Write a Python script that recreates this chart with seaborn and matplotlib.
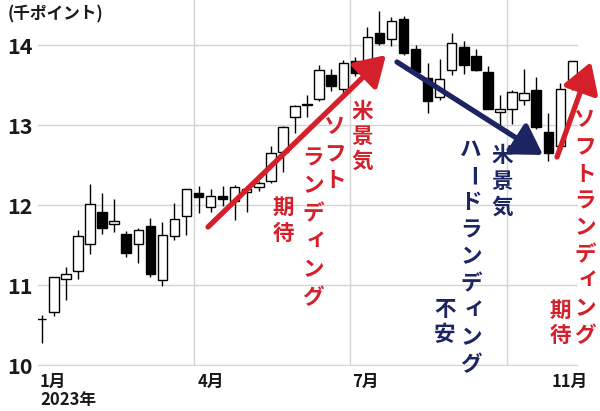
import matplotlib
matplotlib.use('Agg')
import matplotlib.pyplot as plt
import numpy as np
import pandas as pd
import seaborn as sns

W, H = 600, 411

# weekly Nikkei candles, thousand points (Jan - Nov 2023)
opens = [10.58, 10.67, 11.08, 11.18, 11.52, 11.91, 11.76, 11.64, 11.52, 11.74,
         11.06, 11.62, 11.87, 12.15, 11.98, 12.11, 12.05, 12.17, 12.23, 12.31,
         12.67, 13.10, 13.25, 13.33, 13.63, 13.46, 13.80, 13.71, 14.15, 14.08,
         14.33, 13.96, 13.59, 13.35, 13.69, 13.98, 13.87, 13.67, 13.17, 13.20,
         13.32, 13.44, 12.92, 12.74, 13.52]
highs = [10.63, 11.10, 11.23, 11.69, 12.27, 12.15, 12.08, 11.68, 11.71, 11.84,
         11.79, 12.03, 12.21, 12.24, 12.20, 12.24, 12.26, 12.24, 12.30, 12.74,
         12.99, 13.25, 13.38, 13.75, 13.71, 13.82, 13.85, 14.23, 14.43, 14.36,
         14.37, 14.00, 13.78, 13.83, 14.15, 14.05, 13.95, 13.74, 13.38, 13.44,
         13.70, 13.61, 13.16, 13.53, 13.80]
lows = [10.28, 10.61, 10.82, 11.08, 11.39, 11.64, 11.67, 11.35, 11.28, 11.10,
        10.99, 11.56, 11.63, 11.90, 11.91, 11.99, 11.82, 11.92, 12.18, 12.28,
        12.42, 12.90, 13.10, 13.30, 13.43, 13.41, 13.62, 13.71, 14.01, 13.99,
        13.88, 13.62, 13.16, 13.32, 13.63, 13.64, 13.68, 13.21, 12.99, 13.02,
        13.26, 12.96, 12.55, 12.74, 13.44]
closes = [10.58, 11.10, 11.14, 11.62, 12.01, 11.72, 11.80, 11.40, 11.69, 11.14,
          11.63, 11.83, 12.21, 12.10, 12.12, 12.08, 12.23, 12.21, 12.28, 12.66,
          12.98, 13.24, 13.27, 13.69, 13.49, 13.78, 13.66, 14.10, 14.03, 14.31,
          13.90, 13.67, 13.30, 13.58, 14.03, 13.76, 13.69, 13.21, 13.21, 13.42,
          13.41, 12.98, 12.65, 13.46, 13.80]

y_ticks = [10, 11, 12, 13, 14]
month_labels = ['1月\n2023年', '4月', '7月', '11月']
month_label_pos = [-0.15, 12.9, 25.7, 42.3]
month_grid_pos = [12.65, 25.6, 38.6]

RED = '#d5202b'
NAVY = '#1c2461'

df = pd.DataFrame({'open': opens, 'high': highs, 'low': lows, 'close': closes})
df['week'] = np.arange(len(df))
df['up'] = df['close'] >= df['open']

sns.set_theme(style='white')
plt.rcParams['font.family'] = ['Noto Sans CJK JP', 'DejaVu Sans']

fig = plt.figure(figsize=(6, 4.11), dpi=100)
ax = fig.add_axes([38 / W, 1 - 365.5 / H, 540 / W, 365.5 / H])

# wicks and bodies
ax.vlines(df['week'], df['low'], df['high'], color='black', lw=1, zorder=2)
body_lo = df[['open', 'close']].min(axis=1)
body_h = (df['close'] - df['open']).abs()
colors = np.where(df['up'], 'white', 'black')
ax.bar(df['week'], body_h, bottom=body_lo, width=0.78, color=colors,
       edgecolor='black', linewidth=1, zorder=3)

ax.set_xlim(-0.31, 44.47)
ax.set_ylim(9.995, 14.569)

ax.set_yticks(y_ticks)
ax.set_yticklabels([str(v) for v in y_ticks], fontsize=15.5, fontweight='bold', color='#1a1a1a')
ax.tick_params(axis='y', length=0, pad=4)

ax.set_xticks(month_label_pos)
ax.set_xticklabels(month_labels, fontsize=12, fontweight='bold', color='#1a1a1a')
for lbl in ax.get_xticklabels():
    lbl.set_ha('left')
    lbl.set_multialignment('left')
    lbl.set_linespacing(1.05)
ax.set_xticks(month_grid_pos, minor=True)
ax.tick_params(axis='x', which='both', length=0, pad=5)

ax.grid(axis='y', which='major', color='#d4d4d4', lw=1)
ax.grid(axis='x', which='minor', color='#d4d4d4', lw=1)
ax.grid(axis='x', which='major', visible=False)
ax.set_axisbelow(True)
sns.despine(ax=ax, left=True, bottom=True)

fig.text(8 / W, 1 - 14 / H, '(千ポイント)', fontsize=12, fontweight='bold',
         color='#1a1a1a', va='center', ha='left')


def arrow(p0, p1, color):
    ax.annotate('', xy=(p1[0], H - p1[1]), xycoords='figure pixels',
                xytext=(p0[0], H - p0[1]), textcoords='figure pixels',
                arrowprops=dict(arrowstyle='-|>,head_length=0.9,head_width=0.55',
                                lw=3.8, color=color, shrinkA=0, shrinkB=0,
                                mutation_scale=20))


def vtext(x, y0, chars, color, step=27, size=15.5):
    for i, ch in enumerate(chars):
        rot = -90 if ch == 'ー' else 0
        dx, dy = (3, -4) if ch == 'ィ' else (0, 0)
        fig.text((x + dx) / W, 1 - (y0 + i * step + dy) / H, ch, ha='center',
                 va='center', rotation=rot, fontsize=size, fontweight='bold',
                 color=color)


arrow((208, 227), (386, 55), RED)
arrow((397, 62), (543, 155), NAVY)
arrow((557, 157), (591, 62), RED)

vtext(362, 111, '米景気', RED, step=25)
vtext(335, 127, 'ソフト', RED, step=26.5)
vtext(313, 158, 'ランディング', RED, step=28)
vtext(283, 207, '期待', RED, step=26)
vtext(502, 156, '米景気', NAVY, step=25.5)
vtext(471, 149, 'ハードランディング', NAVY, step=27)
vtext(445, 310, '不安', NAVY, step=25)
vtext(585, 120, 'ソフトランディング', RED, step=27)
vtext(560, 310, '期待', RED, step=25)

fig.savefig('out.png', dpi=100)
